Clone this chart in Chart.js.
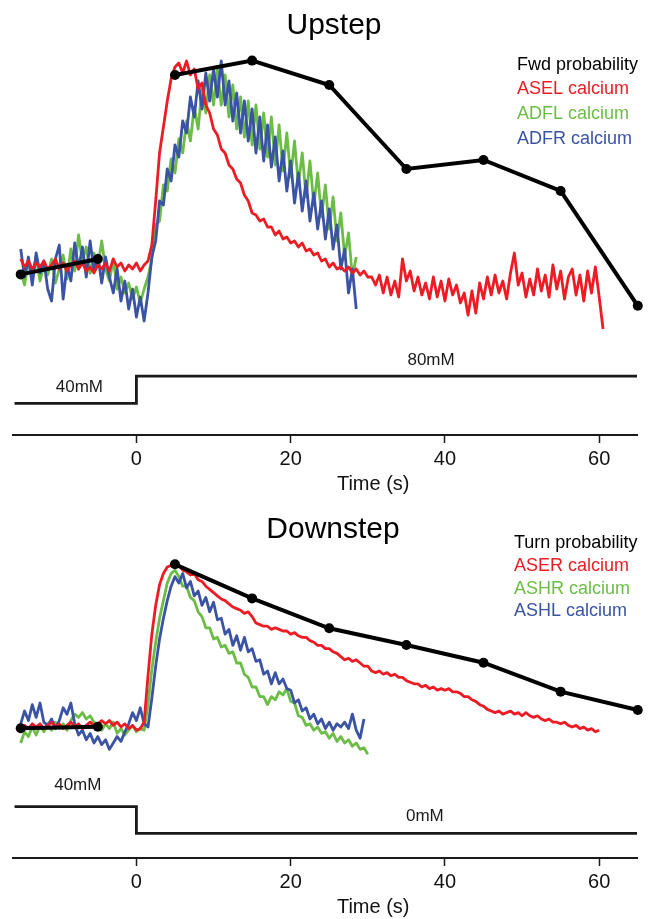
<!DOCTYPE html>
<html>
<head>
<meta charset="utf-8">
<title>Upstep / Downstep</title>
<script src="https://cdn.jsdelivr.net/npm/chart.js@4.4.1/dist/chart.umd.min.js"></script>
<style>
  html, body { margin: 0; padding: 0; background: #fff; }
  canvas { display: block; }
</style>
</head>
<body>
<canvas id="upChart" width="655" height="500"></canvas>
<canvas id="downChart" width="655" height="419"></canvas>
<script>
// ------------------------------------------------------------------
// Data (read off the figure). Calcium traces are sampled every 0.5 s,
// values are normalised to % of peak response.
// ------------------------------------------------------------------
const xTicks = [0, 20, 40, 60];
const sampleStep = 0.5;

// ---- Upstep ----
const upTraceStart = -15;
const aselCalcium = [
  3, -1, 2, -2, 1, -1, 2, -2, 0, 3, -2, 1, -3, 0, 2, -2, 1, -3, -1, -4,
  0, -2, 1, -3, 3, -1, 1, -3, 0, -2, 1, -3, 0, 2,
  10, 32, 56, 69, 82, 93, 99, 101, 96, 102, 95, 98, 88, 91, 80, 76, 68, 65, 58, 56,
  50, 48, 43, 41, 35, 32, 26, 25, 22, 23, 19, 19, 15, 17, 13, 14, 11, 12, 9, 11,
  7, 8, 5, 6, 2, 3, -1, 1, -2, -1, -3, -1, -4, -2, -5, -3, -6, -6, -10,
  -5, -14, -6, -15, -8, -16, 3, -8, -3, -13, -6, -15, -9, -17, -6, -16, -8, -18, -7, -15,
  -10, -19, -14, -25, -13, -24, -9, -17, -6, -15, -5, -14, -8, -17, -4, 6, -10, -4, -16, -7,
  -15, -2, -13, -5, -16, 0, -12, -3, -17, -6, -2, -15, -5, -18, -3, -14, -1, -16, -32
];
const adflCalcium = [
  -3, -10, 2, -6, 4, -8, 0, -5, 3, -9, -2, 5, -7, 8, -3, 15, 2, 9, -4, 6,
  -1, 12, -2, -8, 3, -12, -6, -14, -9, -17, -11, -19, -12, -6,
  3, 20, 22, 40, 37, 53, 46, 63, 56, 72, 62, 79, 68, 88, 76, 95, 80, 98, 80, 95,
  74, 90, 68, 84, 64, 82, 60, 80, 58, 76, 54, 74, 50, 70, 47, 66, 44, 62, 40, 56,
  34, 52, 30, 46, 24, 40, 18, 34, 12, 26, 4, 16, -6, 4
];
const adfrCalcium = [
  8, -6, 4, -10, 6, -4, 2, -12, -18, 3, 10, -17, 0, -8, 11, -2, 9, -6, 12, -3,
  5, -9, 4, -6, -14, -2, -18, -8, -22, -12, -26, -16, -28, -14,
  4, 12, 32, 30, 48, 42, 60, 54, 72, 66, 84, 74, 92, 78, 96, 82, 98, 84, 102, 80,
  92, 72, 86, 66, 82, 62, 78, 56, 74, 52, 70, 49, 64, 42, 57, 37, 52, 31, 46, 27,
  42, 22, 36, 18, 32, 13, 28, 8, 20, -2, 8, -14, -2, -22
];
const fwdTimes = [-15, -5, 0, 5, 15, 25, 35, 45, 55, 65];
const fwdProbability = [-4.7, 3, null, 95, 102.2, 90, 48, 52.5, 37, -20.4];
const upStepTimes = [-15.8, 0, 0, 64.9];
const upStepConc = [40, 40, 80, 80];

// ---- Downstep ----
const downTraceStart = -15;
const aserCalcium = [
  -2, 1, -1, 2, 0, 2, -1, 1, 3, 0, 2, -1, 1, 3, 0, 2, -1, 1, 3, 1,
  2, 4, 2, 4, 1, 3, 0, 2, -1, 1, -2, -1,
  3, 32, 58, 76, 89, 96, 100, 101, 100, 101, 98, 97, 95, 96, 92, 91, 88, 86, 84, 82,
  80, 79, 77, 75, 74, 73, 71, 72, 69, 65, 64, 63, 63, 61, 62, 61, 60, 60, 58, 59,
  57, 56, 56, 54, 53, 51, 51, 49, 49, 47, 46, 44, 42, 43, 41, 42, 40, 38, 38, 35,
  34, 35, 33, 34, 32, 33, 31, 31, 29, 28, 27, 27, 25, 26, 24, 25, 23, 24, 23, 24,
  22, 22, 21, 19, 19, 17, 16, 14, 13, 11, 10, 9, 10, 8, 9, 10, 8, 9, 7, 9,
  7, 6, 7, 5, 4, 5, 3, 3, 2, 3, 1, 0, 1, -1, 0, -2, -1, -3, -2
];
const ashrCalcium = [
  -10, -3, -6, 0, -5, 1, -3, 2, -2, 3, -1, 2, -2, 4, 8, 6, 9, 5, 7, 3,
  1, -2, 2, -1, 3, -4, -1, -5, -2, 1, -3, -1, -2,
  14, 36, 53, 68, 79, 90, 96, 98,
  94, 88, 88, 81, 79, 72, 69, 62, 62, 55, 56, 50, 51, 46, 47, 40, 40, 33, 31, 25,
  25, 19, 19, 14, 19, 17, 22, 20, 24, 16, 15, 7, 6, 1, 2, -2, 0, -4, -3, -7,
  -4, -9, -6, -10, -8, -12, -10, -14, -13, -17
];
const ashlCalcium = [
  2, 10, 4, 14, 6, 15, 3, 1, 5, -1, 4, 12, 8, 15, 2, -5, -2, -8, -4, -10,
  -6, -11, -8, -14, -10, -6, -9, -3, 2, 9, 4, 12, 2, 0,
  18, 38, 55, 68, 79, 88, 94,
  90, 96, 87, 91, 82, 85, 76, 81, 72, 78, 67, 68, 58, 61, 51, 57, 48, 56, 47, 49,
  41, 42, 33, 35, 27, 34, 27, 30, 24, 23, 15, 17, 10, 12, 5, 8, 2, 5, -1, 3,
  -2, 2, 0, 3, -1, 8, -2, -7, 5
];
const turnTimes = [-15, -5, 0, 5, 15, 25, 35, 45, 55, 65];
const turnProbability = [-0.8, 0.2, null, 101.7, 80.4, 61.7, 51.3, 40.2, 22.1, 10.6];
const downStepTimes = [-15.8, 0, 0, 64.9];
const downStepConc = [40, 40, 0, 0];

// ------------------------------------------------------------------
// Styling
// ------------------------------------------------------------------
const FONT = '"Liberation Sans", Arial, Helvetica, sans-serif';
const RED = "#ed1c24";
const GREEN = "#6cbd45";
const BLUE = "#3a53a4";
const INK = "#1a1a1a";

function tracePoints(start, values) {
  return values.map((v, i) => ({ x: start + i * sampleStep, y: v }));
}
function pairPoints(xs, ys) {
  return xs.map((x, i) => ({ x: x, y: ys[i] }));
}

function traceSet(values, start, color) {
  return {
    data: tracePoints(start, values),
    borderColor: color,
    borderWidth: 2.8,
    pointRadius: 0,
    tension: 0,
    borderJoinStyle: "round",
    yAxisID: "y",
  };
}

// draws title, legend text, stimulus labels and the axis title
const panelText = {
  id: "panelText",
  afterDraw(chart, args, opts) {
    const ctx = chart.ctx;
    const x = chart.scales.x;
    const ys = chart.scales.yStep;
    ctx.save();
    ctx.fillStyle = "#000";
    ctx.textAlign = "center";
    ctx.textBaseline = "alphabetic";
    ctx.font = "30px " + FONT;
    ctx.fillText(opts.title, opts.titleX, opts.titleY);

    ctx.textAlign = "left";
    ctx.textBaseline = "middle";
    ctx.font = "18px " + FONT;
    opts.legend.forEach((item, i) => {
      ctx.fillStyle = item.color;
      ctx.fillText(item.text, opts.legendX, opts.legendY[i]);
    });

    ctx.fillStyle = INK;
    ctx.textAlign = "center";
    ctx.font = "17px " + FONT;
    opts.stepLabels.forEach((l) => {
      ctx.fillText(l.text, x.getPixelForValue(l.t), ys.getPixelForValue(l.c) + l.dy);
    });

    ctx.fillStyle = "#111";
    ctx.font = "20px " + FONT;
    ctx.fillText("Time (s)", x.getPixelForValue(30.7), chart.chartArea.bottom + 49);
    ctx.restore();
  },
};

function panelOptions(cfg) {
  return {
    responsive: false,
    animation: false,
    events: [],
    layout: { padding: { left: 13, right: 18, top: cfg.padTop, bottom: cfg.padBottom } },
    plugins: {
      legend: { display: false },
      tooltip: { enabled: false },
      panelText: cfg.text,
    },
    scales: {
      x: {
        type: "linear",
        min: -16,
        max: 64.9,
        afterBuildTicks: (axis) => {
          axis.ticks = xTicks.map((v) => ({ value: v }));
        },
        border: { display: true, color: INK, width: 2 },
        grid: {
          drawOnChartArea: false,
          drawTicks: true,
          tickLength: 8,
          tickWidth: 1.5,
          tickColor: INK,
        },
        ticks: {
          padding: 4,
          color: "#111",
          autoSkip: false,
          maxRotation: 0,
          font: { family: FONT, size: 20 },
        },
      },
      y: { display: false, min: cfg.yMin, max: cfg.yMax },
      yStep: { display: false, min: cfg.stepMin, max: cfg.stepMax },
    },
  };
}

// ========================================================
// Upstep
// ========================================================
new Chart(document.getElementById("upChart"), {
  type: "line",
  data: {
    datasets: [
      {
        data: pairPoints(fwdTimes, fwdProbability),
        borderColor: "#000",
        backgroundColor: "#000",
        borderWidth: 4,
        pointRadius: 5,
        pointBorderWidth: 0,
        spanGaps: false,
        clip: false,
        yAxisID: "y",
      },
      traceSet(aselCalcium, upTraceStart, RED),
      traceSet(adfrCalcium, upTraceStart, BLUE),
      traceSet(adflCalcium, upTraceStart, GREEN),
      {
        data: pairPoints(upStepTimes, upStepConc),
        borderColor: INK,
        borderWidth: 2.8,
        pointRadius: 0,
        borderJoinStyle: "miter",
        yAxisID: "yStep",
      },
    ],
  },
  options: panelOptions({
    padTop: 40,
    padBottom: 25,
    yMin: -85,
    yMax: 112.5,
    stepMin: -6.4,
    stepMax: 572.3,
    text: {
      title: "Upstep",
      titleX: 334,
      titleY: 34,
      legendX: 517,
      legendY: [65, 89, 114, 139],
      legend: [
        { text: "Fwd probability", color: "#000" },
        { text: "ASEL calcium", color: RED },
        { text: "ADFL calcium", color: GREEN },
        { text: "ADFR calcium", color: BLUE },
      ],
      stepLabels: [
        { text: "40mM", t: -7.4, c: 40, dy: -16 },
        { text: "80mM", t: 38.2, c: 80, dy: -16 },
      ],
    },
  }),
  plugins: [panelText],
});

// ========================================================
// Downstep
// ========================================================
new Chart(document.getElementById("downChart"), {
  type: "line",
  data: {
    datasets: [
      {
        data: pairPoints(turnTimes, turnProbability),
        borderColor: "#000",
        backgroundColor: "#000",
        borderWidth: 4,
        pointRadius: 5,
        pointBorderWidth: 0,
        spanGaps: false,
        clip: false,
        yAxisID: "y",
      },
      traceSet(aserCalcium, downTraceStart, RED),
      traceSet(ashlCalcium, downTraceStart, BLUE),
      traceSet(ashrCalcium, downTraceStart, GREEN),
      {
        data: pairPoints(downStepTimes, downStepConc),
        borderColor: INK,
        borderWidth: 2.8,
        pointRadius: 0,
        borderJoinStyle: "miter",
        yAxisID: "yStep",
      },
    ],
  },
  options: panelOptions({
    padTop: 20,
    padBottom: 21,
    yMin: -81.9,
    yMax: 129.4,
    stepMin: -37.1,
    stepMax: 471.1,
    text: {
      title: "Downstep",
      titleX: 333,
      titleY: 38,
      legendX: 514,
      legendY: [43, 66, 89, 111],
      legend: [
        { text: "Turn probability", color: "#000" },
        { text: "ASER calcium", color: RED },
        { text: "ASHR calcium", color: GREEN },
        { text: "ASHL calcium", color: BLUE },
      ],
      stepLabels: [
        { text: "40mM", t: -7.6, c: 40, dy: -21 },
        { text: "0mM", t: 37.4, c: 0, dy: -17 },
      ],
    },
  }),
  plugins: [panelText],
});
</script>
</body>
</html>
